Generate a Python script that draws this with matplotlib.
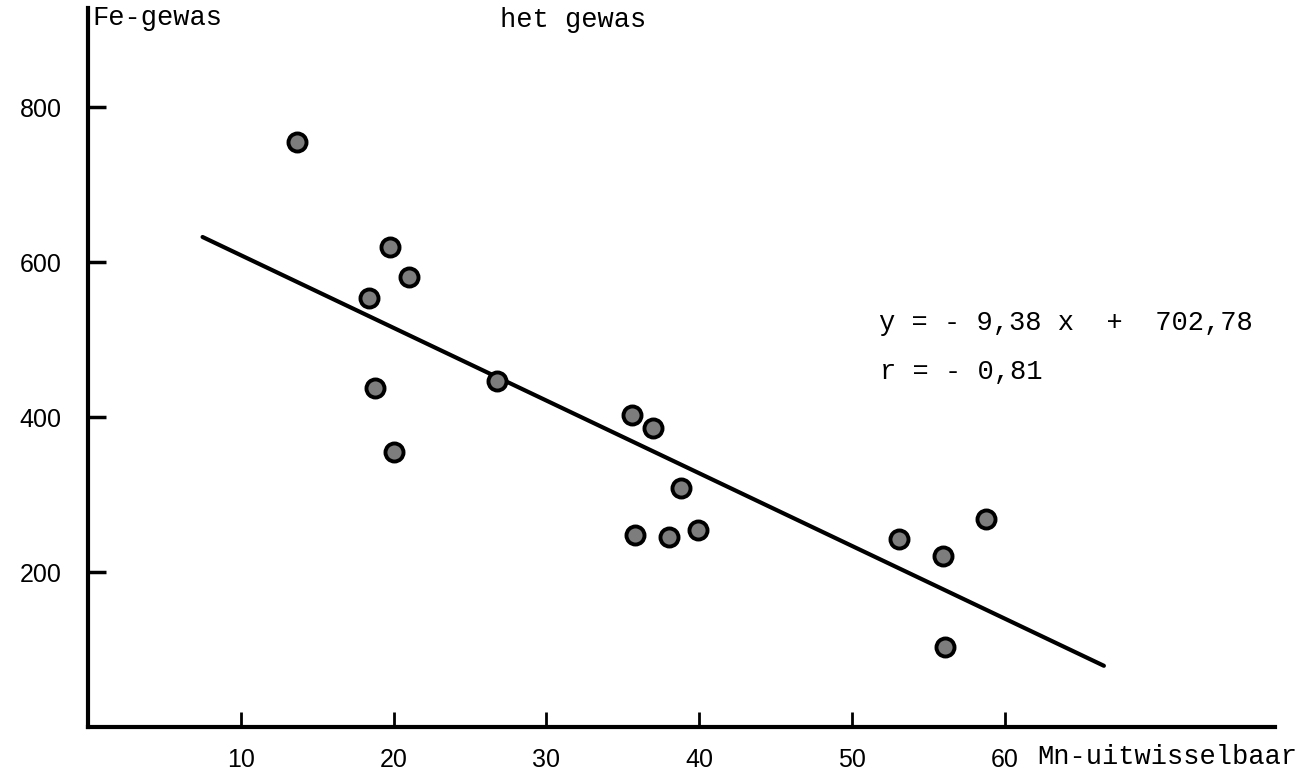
import numpy as np
import matplotlib.pyplot as plt

# Mn-uitwisselbaar (x) vs Fe-gewas (y)
mn = [13.7, 19.8, 21.0, 18.4, 18.8, 20.0, 26.8, 35.6, 37.0, 38.8,
      35.8, 38.0, 39.9, 53.1, 56.0, 58.8, 56.1]
fe = [755, 619, 581, 554, 437, 355, 446, 403, 386, 308,
      248, 245, 254, 243, 221, 268, 103]

slope = -9.38
intercept = 702.78
line_x = np.array([7.5, 66.5])

x_ticks = [10, 20, 30, 40, 50, 60]
y_ticks = [200, 400, 600, 800]

mono = "Liberation Mono"
sans = "Liberation Sans"

fig = plt.figure(figsize=(13.06, 7.82), dpi=100)
ax = fig.add_axes([88 / 1306, 1 - 727 / 782, (1275 - 88) / 1306, (727 - 8) / 782])

ax.plot(line_x, slope * line_x + intercept, color="black", lw=3,
        solid_capstyle="round", zorder=2)
ax.plot(mn, fe, "o", ms=13, mfc="#7d7d7d", mec="black", mew=2.8, zorder=3)

ax.set_xlim(0, 77.7)
ax.set_ylim(0, 928)

for s in ["top", "right"]:
    ax.spines[s].set_visible(False)
for s in ["left", "bottom"]:
    ax.spines[s].set_linewidth(3)

ax.set_xticks(x_ticks)
ax.set_yticks(y_ticks)
ax.tick_params(axis="x", direction="in", length=11, width=2, pad=15, labelsize=18)
ax.tick_params(axis="y", direction="in", length=13, width=2.5, pad=19, labelsize=18)
for lab in ax.get_xticklabels() + ax.get_yticklabels():
    lab.set_fontfamily(sans)

fs = 19.5
fig.text(92 / 1306, 1 - 18 / 782, "Fe-gewas", family=mono, fontsize=fs,
         ha="left", va="center")
fig.text(500 / 1306, 1 - 20 / 782, "het gewas", family=mono, fontsize=fs,
         ha="left", va="center")
fig.text(1037 / 1306, 1 - 757 / 782, "Mn-uitwisselbaar", family=mono, fontsize=fs,
         ha="left", va="center")
fig.text(879 / 1306, 1 - 323 / 782, "y = - 9,38 x  +  702,78", family=mono,
         fontsize=fs, ha="left", va="center")
fig.text(880 / 1306, 1 - 372 / 782, "r = - 0,81", family=mono, fontsize=fs,
         ha="left", va="center")

fig.savefig("out.png", dpi=100, facecolor="white")
